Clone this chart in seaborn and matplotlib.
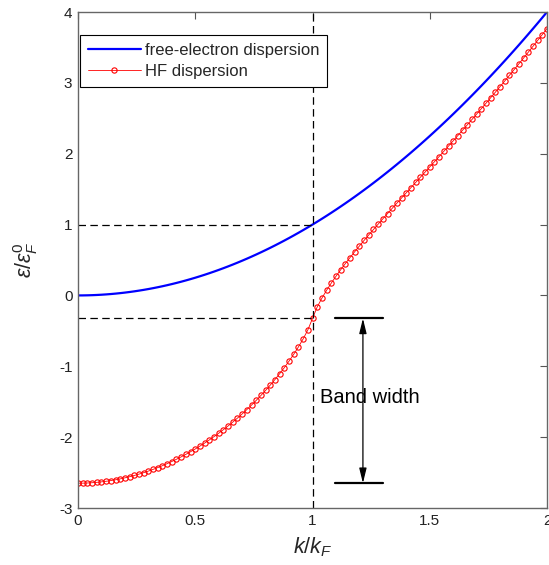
import matplotlib
matplotlib.use("Agg")
import matplotlib.pyplot as plt
import numpy as np
import pandas as pd
import seaborn as sns

# ---------------- data ----------------
k_over_kf = [
    0.00, 0.02, 0.04, 0.06, 0.08, 0.10, 0.12, 0.14, 0.16, 0.18,
    0.20, 0.22, 0.24, 0.26, 0.28, 0.30, 0.32, 0.34, 0.36, 0.38,
    0.40, 0.42, 0.44, 0.46, 0.48, 0.50, 0.52, 0.54, 0.56, 0.58,
    0.60, 0.62, 0.64, 0.66, 0.68, 0.70, 0.72, 0.74, 0.76, 0.78,
    0.80, 0.82, 0.84, 0.86, 0.88, 0.90, 0.92, 0.94, 0.96, 0.98,
    1.00, 1.02, 1.04, 1.06, 1.08, 1.10, 1.12, 1.14, 1.16, 1.18,
    1.20, 1.22, 1.24, 1.26, 1.28, 1.30, 1.32, 1.34, 1.36, 1.38,
    1.40, 1.42, 1.44, 1.46, 1.48, 1.50, 1.52, 1.54, 1.56, 1.58,
    1.60, 1.62, 1.64, 1.66, 1.68, 1.70, 1.72, 1.74, 1.76, 1.78,
    1.80, 1.82, 1.84, 1.86, 1.88, 1.90, 1.92, 1.94, 1.96, 1.98,
    2.00,
]

free_electron = [
    0.0000, 0.0004, 0.0016, 0.0036, 0.0064, 0.0100, 0.0144, 0.0196, 0.0256, 0.0324,
    0.0400, 0.0484, 0.0576, 0.0676, 0.0784, 0.0900, 0.1024, 0.1156, 0.1296, 0.1444,
    0.1600, 0.1764, 0.1936, 0.2116, 0.2304, 0.2500, 0.2704, 0.2916, 0.3136, 0.3364,
    0.3600, 0.3844, 0.4096, 0.4356, 0.4624, 0.4900, 0.5184, 0.5476, 0.5776, 0.6084,
    0.6400, 0.6724, 0.7056, 0.7396, 0.7744, 0.8100, 0.8464, 0.8836, 0.9216, 0.9604,
    1.0000, 1.0404, 1.0816, 1.1236, 1.1664, 1.2100, 1.2544, 1.2996, 1.3456, 1.3924,
    1.4400, 1.4884, 1.5376, 1.5876, 1.6384, 1.6900, 1.7424, 1.7956, 1.8496, 1.9044,
    1.9600, 2.0164, 2.0736, 2.1316, 2.1904, 2.2500, 2.3104, 2.3716, 2.4336, 2.4964,
    2.5600, 2.6244, 2.6896, 2.7556, 2.8224, 2.8900, 2.9584, 3.0276, 3.0976, 3.1684,
    3.2400, 3.3124, 3.3856, 3.4596, 3.5344, 3.6100, 3.6864, 3.7636, 3.8416, 3.9204,
    4.0000,
]

hf_dispersion = [
    -2.6500, -2.6492, -2.6470, -2.6432, -2.6379, -2.6311, -2.6228, -2.6130, -2.6017, -2.5888,
    -2.5744, -2.5584, -2.5409, -2.5219, -2.5012, -2.4790, -2.4552, -2.4298, -2.4028, -2.3741,
    -2.3438, -2.3118, -2.2782, -2.2428, -2.2056, -2.1668, -2.1261, -2.0835, -2.0392, -1.9929,
    -1.9447, -1.8944, -1.8421, -1.7877, -1.7311, -1.6723, -1.6110, -1.5473, -1.4810, -1.4120,
    -1.3401, -1.2650, -1.1865, -1.1043, -1.0179, -0.9268, -0.8301, -0.7266, -0.6140, -0.4876,
    -0.3250, -0.1635, -0.0390, 0.0718, 0.1740, 0.2701, 0.3615, 0.4494, 0.5343, 0.6169,
    0.6975, 0.7765, 0.8541, 0.9307, 1.0063, 1.0812, 1.1555, 1.2294, 1.3028, 1.3760,
    1.4490, 1.5219, 1.5947, 1.6676, 1.7405, 1.8135, 1.8868, 1.9602, 2.0339, 2.1079,
    2.1822, 2.2568, 2.3318, 2.4072, 2.4830, 2.5593, 2.6360, 2.7132, 2.7909, 2.8691,
    2.9478, 3.0271, 3.1069, 3.1873, 3.2683, 3.3498, 3.4320, 3.5148, 3.5981, 3.6821,
    3.7667,
]

series_labels = ["free-electron dispersion", "HF dispersion"]
x_ticks = [0, 0.5, 1, 1.5, 2]
x_tick_labels = ["0", "0.5", "1", "1.5", "2"]
y_ticks = [-3, -2, -1, 0, 1, 2, 3, 4]
y_tick_labels = ["-3", "-2", "-1", "0", "1", "2", "3", "4"]
fermi_index = 50          # k/kF = 1
band_text = "Band width"

# ---------------- style ----------------
sns.set_style("white")
plt.rcParams["font.family"] = ["Liberation Sans", "DejaVu Sans"]
plt.rcParams["mathtext.fontset"] = "custom"
plt.rcParams["mathtext.rm"] = "Liberation Sans"
plt.rcParams["mathtext.it"] = "Liberation Sans:italic"
plt.rcParams["mathtext.bf"] = "Liberation Sans:bold"

W, H = 549, 565
fig = plt.figure(figsize=(W / 100, H / 100), dpi=100)
ax = fig.add_axes([78 / W, 1 - 508 / H, (547 - 78) / W, (508 - 12) / H])

df_free = pd.DataFrame({"k": k_over_kf, "e": free_electron})
df_hf = pd.DataFrame({"k": k_over_kf, "e": hf_dispersion})

sns.lineplot(data=df_free, x="k", y="e", ax=ax, color="#0000ff", linewidth=1.6,
             sort=False, errorbar=None, label=series_labels[0])
sns.lineplot(data=df_hf, x="k", y="e", ax=ax, color="#ff0000", linewidth=0.6,
             marker="o", markersize=3.8, markerfacecolor="none",
             markeredgecolor="#ff0000", markeredgewidth=0.8,
             sort=False, errorbar=None, label=series_labels[1])

kf = k_over_kf[fermi_index]
e_free_kf = free_electron[fermi_index]
e_hf_kf = hf_dispersion[fermi_index]
e_hf_bottom = hf_dispersion[0]

dash = (0, (6, 3.5))
ax.plot([kf, kf], [y_ticks[0], y_ticks[-1]], color="black", lw=0.9, linestyle=dash)
ax.plot([0, kf], [e_free_kf, e_free_kf], color="black", lw=0.9, linestyle=dash)
ax.plot([0, kf], [e_hf_kf, e_hf_kf], color="black", lw=0.9, linestyle=dash)

# band width bracket
bx0, bx1, bxa = 1.097, 1.30, 1.215
ax.plot([bx0, bx1], [e_hf_kf, e_hf_kf], color="black", lw=1.6)
ax.plot([bx0, bx1], [e_hf_bottom, e_hf_bottom], color="black", lw=1.6)
ax.annotate("", xy=(bxa, e_hf_bottom), xytext=(bxa, e_hf_kf),
            arrowprops=dict(arrowstyle="<|-|>,head_length=0.9,head_width=0.22",
                            color="black", lw=0.9, shrinkA=0, shrinkB=0))
ax.text(1.03, -1.44, band_text, fontsize=14.5, ha="left", va="center", color="black")

ax.set_xlim(0, 2)
ax.set_ylim(-3, 4)
ax.set_xticks(x_ticks)
ax.set_xticklabels(x_tick_labels)
ax.set_yticks(y_ticks)
ax.set_yticklabels(y_tick_labels)
ax.tick_params(direction="in", length=5, width=0.8, colors="#555555",
               labelcolor="#222222", labelsize=11, top=True, right=True,
               pad=4)
for s in ax.spines.values():
    s.set_color("#666666")
    s.set_linewidth(1.0)

ax.set_xlabel(r"$k/k_F$", fontsize=15.5, labelpad=6)
ax.set_ylabel(r"$\varepsilon/\varepsilon_F^0$", fontsize=15.5, labelpad=14)

leg = ax.legend(loc="upper left", bbox_to_anchor=(80 / W, 1 - 35 / H),
                bbox_transform=fig.transFigure, frameon=True, fancybox=False,
                edgecolor="black", framealpha=1, fontsize=12, borderpad=0.45,
                handlelength=3.2, handletextpad=0.25, labelspacing=0.4,
                borderaxespad=0)
leg.get_frame().set_linewidth(0.8)

fig.savefig("out.png", dpi=100)
